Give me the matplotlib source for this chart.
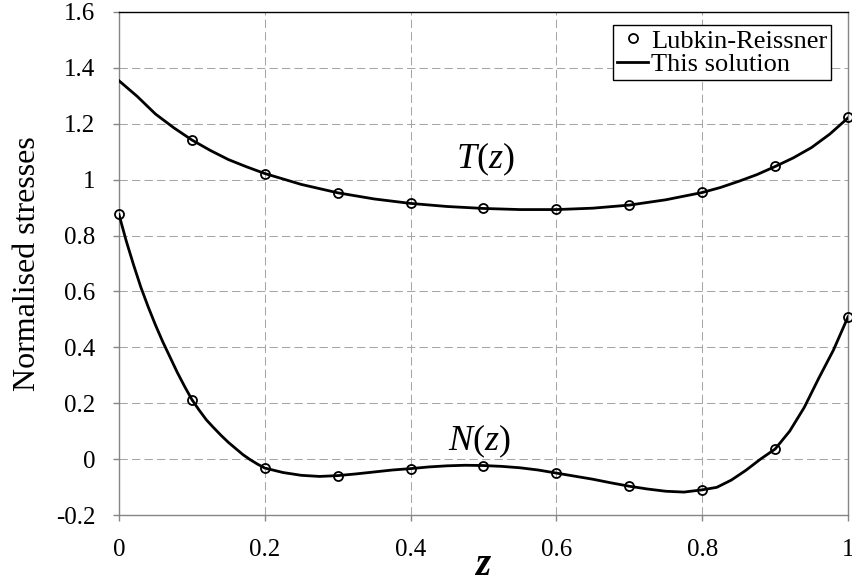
import matplotlib
matplotlib.use('Agg')
import matplotlib.pyplot as plt

plt.rcParams['font.family'] = ['Liberation Serif', 'DejaVu Serif']
plt.rcParams['mathtext.fontset'] = 'custom'
plt.rcParams['mathtext.rm'] = 'Liberation Serif'
plt.rcParams['mathtext.it'] = 'Liberation Serif:italic'

# Lubkin-Reissner points
z_pts = [0.0, 0.1, 0.2, 0.3, 0.4, 0.5, 0.6, 0.7, 0.8, 0.9, 1.0]
t_pts = [None, 1.143, 1.022, 0.954, 0.916, 0.897, 0.894, 0.909, 0.955, 1.048, 1.224]
n_pts = [0.876, 0.210, -0.033, -0.060, -0.034, -0.023, -0.051, -0.097, -0.110, 0.036, 0.509]

# this solution
z_t = [0.0, 0.025, 0.05, 0.075, 0.1, 0.125, 0.15, 0.175, 0.2, 0.25, 0.3, 0.35, 0.4, 0.45, 0.5,
       0.55, 0.6, 0.65, 0.7, 0.75, 0.8, 0.825, 0.85, 0.875, 0.9, 0.925, 0.95, 0.975, 1.0]
t_line = [1.354, 1.298, 1.235, 1.186, 1.142, 1.105, 1.072, 1.046, 1.022, 0.983, 0.953, 0.931,
          0.915, 0.904, 0.897, 0.893, 0.893, 0.898, 0.909, 0.928, 0.954, 0.972, 0.994, 1.018,
          1.047, 1.078, 1.115, 1.163, 1.221]

z_n = [0.0, 0.01, 0.02, 0.03, 0.04, 0.05, 0.06, 0.07, 0.08, 0.09, 0.1, 0.11, 0.12, 0.13, 0.14,
       0.15, 0.16, 0.17, 0.18, 0.19, 0.2, 0.225, 0.25, 0.275, 0.3, 0.325, 0.35, 0.375, 0.4,
       0.425, 0.45, 0.475, 0.5, 0.525, 0.55, 0.575, 0.6, 0.625, 0.65, 0.675, 0.7, 0.725, 0.75,
       0.775, 0.8, 0.82, 0.84, 0.86, 0.88, 0.9, 0.92, 0.94, 0.96, 0.98, 1.0]
n_line = [0.875, 0.78, 0.695, 0.615, 0.545, 0.48, 0.42, 0.365, 0.31, 0.26, 0.213, 0.175, 0.14,
          0.112, 0.085, 0.06, 0.038, 0.016, -0.002, -0.018, -0.032, -0.048, -0.058, -0.062,
          -0.059, -0.053, -0.046, -0.039, -0.034, -0.028, -0.024, -0.022, -0.023, -0.026,
          -0.031, -0.039, -0.050, -0.061, -0.072, -0.085, -0.097, -0.107, -0.115, -0.118,
          -0.110, -0.101, -0.075, -0.040, 0.0, 0.036, 0.10, 0.185, 0.29, 0.39, 0.509]

x_ticks = [0, 0.2, 0.4, 0.6, 0.8, 1.0]
x_labels = ['0', '0.2', '0.4', '0.6', '0.8', '1']
y_ticks = [-0.2, 0, 0.2, 0.4, 0.6, 0.8, 1.0, 1.2, 1.4, 1.6]
y_labels = ['-0.2', '0', '0.2', '0.4', '0.6', '0.8', '1', '1.2', '1.4', '1.6']

fig = plt.figure(figsize=[8.52, 5.83], dpi=100)
ax = fig.add_axes([119 / 852, 1 - 515 / 583, (848 - 119) / 852, (515 - 12) / 583])

ax.plot(z_t, t_line, color='black', linewidth=2, label='This solution', zorder=3)
ax.plot(z_n, n_line, color='black', linewidth=2, zorder=3)

zt = [z for z, t in zip(z_pts, t_pts) if t is not None]
tt = [t for t in t_pts if t is not None]
ax.plot(zt, tt, linestyle='none', marker='o', markersize=6.5, markerfacecolor='none',
        markeredgecolor='black', markeredgewidth=1.3, label='Lubkin-Reissner', clip_on=False, zorder=4)
ax.plot(z_pts, n_pts, linestyle='none', marker='o', markersize=6.5, markerfacecolor='none',
        markeredgecolor='black', markeredgewidth=1.3, clip_on=False, zorder=4)

ax.set_xlim(0, 1)
ax.set_ylim(-0.2, 1.6)
ax.set_xticks(x_ticks)
ax.set_xticklabels(x_labels)
ax.set_yticks(y_ticks)
ax.set_yticklabels(y_labels)
ax.tick_params(axis='both', direction='out', length=4, color='#868686', width=1, labelsize=18)
ax.tick_params(axis='x', pad=13)
ax.tick_params(axis='y', pad=13)

ax.grid(True, color='#a6a6a6', linestyle=(0, (8, 4)), linewidth=0.75)
ax.set_axisbelow(True)
for s in ['left', 'bottom', 'right']:
    ax.spines[s].set_color('#868686')
    ax.spines[s].set_linewidth(1)
ax.spines['top'].set_color('black')
ax.spines['top'].set_linewidth(1)

ax.set_ylabel('Normalised stresses', fontsize=23, labelpad=10)
fig.text(483 / 852, 1 - 575 / 583, 'z', fontsize=28, style='italic', fontweight='bold',
         ha='center', va='baseline')

ax.text(0.503, 1.072, r'$T$($z$)', fontsize=26, ha='center', va='center')
ax.text(0.494, 0.064, r'$N$($z$)', fontsize=26, ha='center', va='center')

h, l = ax.get_legend_handles_labels()
leg = ax.legend([h[1], h[0]], [l[1], l[0]], loc='upper right', bbox_to_anchor=(0.977, 0.974),
                borderaxespad=0, fontsize=19, fancybox=False, edgecolor='black', framealpha=1,
                handlelength=1.2, handletextpad=0.1, labelspacing=0.0, borderpad=0.15)
leg.get_frame().set_linewidth(1)

fig.savefig('out.png', dpi=100)
